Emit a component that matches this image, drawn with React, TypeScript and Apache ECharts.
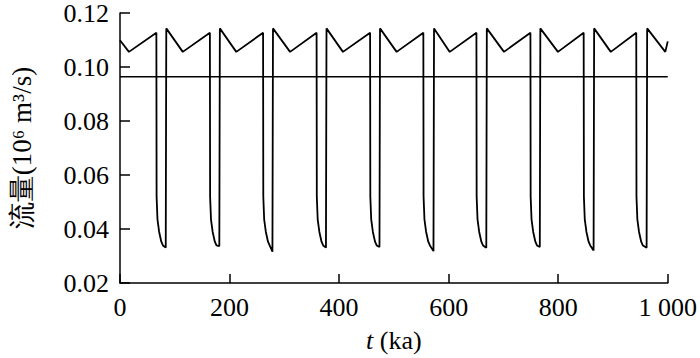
import React, { useEffect, useRef } from "react";
import * as echarts from "echarts";

// Time axis ticks (ka) and flux axis ticks
const xTicks = [0, 200, 400, 600, 800, 1000];
const yTicks = [0.02, 0.04, 0.06, 0.08, 0.1, 0.12];

// Readings of the sawtooth signal
const startPoint = [0, 0.1099];
const endPoint = [1000, 0.1095];
const valleyTimes = [16.3, 114.6, 212.3, 310.5, 407, 505, 602, 701, 799.5, 896, 995.5];
const valleyValue = 0.1056;
const peakTimes = [66.4, 164.1, 261.2, 358.9, 456.6, 553.8, 650.7, 749.3, 846.5, 942.5];
const peakValue = 0.1127;
const jumpTimes = [84.5, 182.3, 279.3, 377, 474.7, 573.3, 669.7, 767.4, 865.6, 962.4];
const jumpTopValue = 0.1143;
const bottomValues = [0.0331, 0.0337, 0.0316, 0.0331, 0.0333, 0.0318, 0.0331, 0.0333, 0.032, 0.0331];
// Shape of the drop after each peak: time after the peak (ka) and flux
const dropOffsets = [0.4, 2, 5, 9, 12];
const dropValues = [0.052, 0.0436, 0.039, 0.0353, 0.0339];

// Threshold line
const thresholdValue = 0.0964;

function buildSignal(): number[][] {
  const pts: number[][] = [startPoint];
  for (let i = 0; i < peakTimes.length; i++) {
    pts.push([valleyTimes[i], valleyValue]);
    pts.push([peakTimes[i], peakValue]);
    for (let k = 0; k < dropOffsets.length; k++) {
      pts.push([peakTimes[i] + dropOffsets[k], dropValues[k]]);
    }
    pts.push([jumpTimes[i] - 1, bottomValues[i]]);
    pts.push([jumpTimes[i], bottomValues[i]]);
    pts.push([jumpTimes[i], jumpTopValue]);
  }
  pts.push([valleyTimes[valleyTimes.length - 1], valleyValue]);
  pts.push(endPoint);
  return pts;
}

const FONT = "Liberation Serif, serif";

export default function App() {
  const ref = useRef<HTMLDivElement>(null);
  useEffect(() => {
    if (!ref.current) return;
    const chart = echarts.init(ref.current, undefined, { renderer: "svg" });
    chart.setOption({
      animation: false,
      backgroundColor: "#fff",
      textStyle: { fontFamily: FONT },
      grid: { left: 115, right: 32, top: 10, bottom: 73 },
      xAxis: {
        type: "value",
        min: xTicks[0],
        max: xTicks[xTicks.length - 1],
        interval: 200,
        name: "{i|t} (ka)",
        nameLocation: "middle",
        nameGap: 44,
        nameTextStyle: {
          color: "#000",
          fontFamily: FONT,
          fontSize: 26,
          rich: {
            i: { fontStyle: "italic", fontFamily: FONT, fontSize: 26, color: "#000" },
          },
        },
        axisLine: { show: true, lineStyle: { color: "#000", width: 1.5 } },
        axisTick: { show: true, inside: true, length: 9, lineStyle: { color: "#000", width: 1.5 } },
        axisLabel: {
          color: "#000",
          fontFamily: FONT,
          fontSize: 26,
          margin: 11,
          formatter: (v: number) => (v >= 1000 ? "1 000" : String(v)),
        },
        splitLine: { show: false },
      },
      yAxis: {
        type: "value",
        min: yTicks[0],
        max: yTicks[yTicks.length - 1],
        interval: 0.02,
        name: "流量(10⁶ m³/s)",
        nameLocation: "middle",
        nameGap: 85,
        nameTextStyle: { color: "#000", fontFamily: FONT, fontSize: 27 },
        axisLine: { show: true, lineStyle: { color: "#000", width: 1.5 } },
        axisTick: { show: true, inside: true, length: 10, lineStyle: { color: "#000", width: 1.5 } },
        axisLabel: {
          color: "#000",
          fontFamily: FONT,
          fontSize: 26,
          margin: 11,
          formatter: (v: number) => v.toFixed(2),
        },
        splitLine: { show: false },
      },
      series: [
        {
          type: "line",
          data: buildSignal(),
          showSymbol: false,
          symbol: "none",
          lineStyle: { color: "#000", width: 1.8 },
          z: 3,
        },
        {
          type: "line",
          data: [
            [xTicks[0], thresholdValue],
            [xTicks[xTicks.length - 1], thresholdValue],
          ],
          showSymbol: false,
          symbol: "none",
          lineStyle: { color: "#000", width: 1.5 },
          z: 2,
        },
      ],
    });
    return () => chart.dispose();
  }, []);
  return (
    <div
      ref={ref}
      style={{ position: "absolute", left: 0, top: 0, width: 700, height: 358 }}
    />
  );
}
